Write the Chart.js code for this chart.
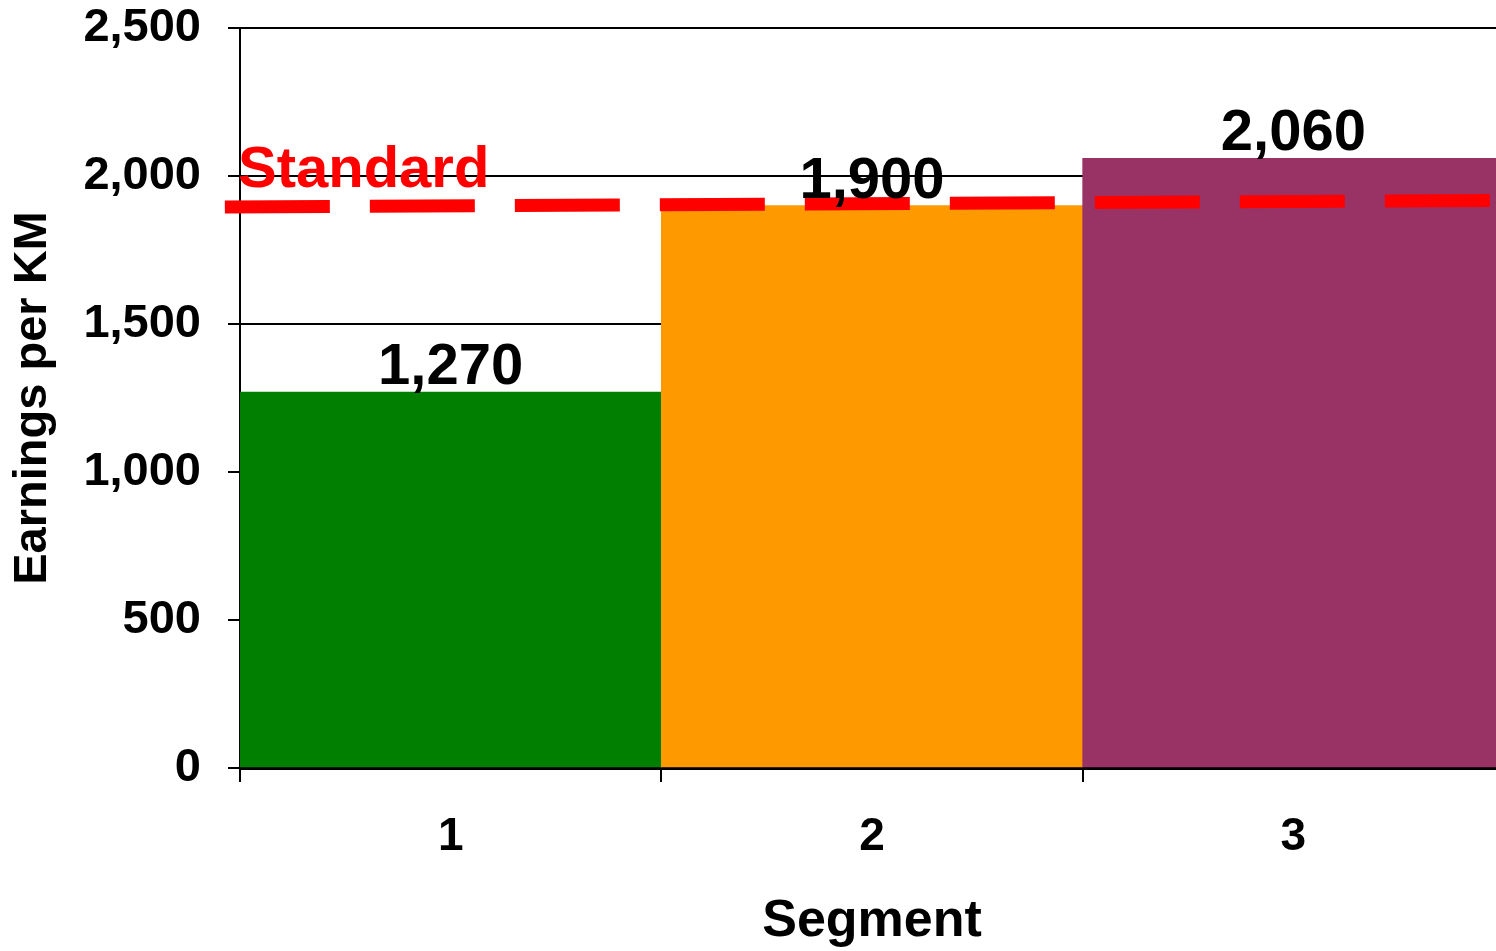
<!DOCTYPE html>
<html>
<head>
<meta charset="utf-8">
<title>Earnings per KM by Segment</title>
<script src="https://cdn.jsdelivr.net/npm/chart.js@4/dist/chart.umd.min.js"></script>
<style>
  html, body { margin: 0; padding: 0; background: #ffffff; overflow: hidden; }
  #wrap { width: 1496px; height: 951px; overflow: hidden; }
  canvas { display: block; }
</style>
</head>
<body>
<div id="wrap"><canvas id="chart" width="1504" height="951"></canvas></div>
<script>
// Segments and their earnings per KM
const segments = ['1', '2', '3'];
const earnings = [1270, 1900, 2060];
const barColors = ['#007f00', '#ff9900', '#993366'];

// Benchmark ("Standard") level at the start and end of the reference line
const standardLevel = [1895, 1917];

// Value axis ticks
const yTicks = [0, 500, 1000, 1500, 2000, 2500];

const FONT = '"Liberation Sans", Arial, Helvetica, sans-serif';
const fmt = v => Number(v).toLocaleString('en-US');

// Horizontal extent of the standard line on the hidden linear axis
const LINE_FROM = -0.536;
const LINE_TO = 2.474;

// Value labels above each bar, plus the "Standard" caption
const labelPlugin = {
  id: 'barValueLabels',
  afterDatasetsDraw(chart) {
    const ctx = chart.ctx;
    const meta = chart.getDatasetMeta(0);
    ctx.save();
    ctx.fillStyle = '#000000';
    ctx.font = 'bold 58px ' + FONT;
    ctx.textAlign = 'center';
    ctx.textBaseline = 'alphabetic';
    meta.data.forEach((bar, i) => {
      ctx.fillText(fmt(earnings[i]), bar.x, bar.y - 8);
    });
    const y = chart.scales.y;
    ctx.fillStyle = '#ff0000';
    ctx.font = 'bold 58px ' + FONT;
    ctx.textAlign = 'left';
    ctx.fillText('Standard', chart.chartArea.left - 2, y.getPixelForValue(standardLevel[0]) - 20);
    ctx.restore();
  }
};

new Chart(document.getElementById('chart'), {
  type: 'bar',
  data: {
    labels: segments,
    datasets: [
      {
        type: 'bar',
        label: 'Earnings per KM',
        data: earnings,
        backgroundColor: barColors,
        borderWidth: 0,
        grouped: false,
        barPercentage: 1.0,
        categoryPercentage: 1.0,
        order: 1
      },
      {
        type: 'line',
        label: 'Standard',
        xAxisID: 'xs',
        data: [
          { x: LINE_FROM, y: standardLevel[0] },
          { x: LINE_TO, y: standardLevel[1] }
        ],
        borderColor: '#ff0000',
        borderWidth: 13,
        borderDash: [105, 40],
        borderCapStyle: 'butt',
        pointRadius: 0,
        fill: false,
        tension: 0,
        clip: false,
        order: 0
      }
    ]
  },
  options: {
    responsive: false,
    animation: false,
    layout: { padding: { top: 0, left: 0, right: 0, bottom: 0 } },
    plugins: {
      legend: { display: false },
      tooltip: { enabled: false }
    },
    scales: {
      x: {
        type: 'category',
        offset: true,
        afterFit(scale) { scale.height = 183; },
        grid: {
          display: true,
          offset: true,
          drawOnChartArea: false,
          drawTicks: true,
          tickLength: 14,
          color: '#000000',
          lineWidth: 2
        },
        border: { display: true, color: '#000000', width: 3 },
        ticks: {
          color: '#000000',
          font: { family: FONT, size: 46, weight: 'bold' },
          padding: 28
        },
        title: {
          display: true,
          text: 'Segment',
          color: '#000000',
          font: { family: FONT, size: 52, weight: 'bold', lineHeight: 1 },
          padding: { top: 0, bottom: 3 }
        }
      },
      xs: {
        type: 'linear',
        display: false,
        offset: false,
        grid: { offset: false },
        min: -0.5,
        max: 2.5
      },
      y: {
        min: 0,
        max: 2500,
        afterFit(scale) {
          scale.width = 240;
          scale.paddingTop = 28;
          scale.paddingBottom = 0;
        },
        afterBuildTicks(scale) { scale.ticks = yTicks.map(v => ({ value: v })); },
        grid: {
          color: '#000000',
          lineWidth: 2,
          drawTicks: true,
          tickLength: 12
        },
        border: { display: true, color: '#000000', width: 2 },
        ticks: {
          color: '#000000',
          font: { family: FONT, size: 47, weight: 'bold' },
          padding: 27,
          callback: v => fmt(v)
        },
        title: {
          display: true,
          text: 'Earnings per KM',
          color: '#000000',
          font: { family: FONT, size: 47, weight: 'bold', lineHeight: 1 },
          padding: { top: 10, bottom: 0 }
        }
      }
    }
  },
  plugins: [labelPlugin]
});
</script>
</body>
</html>
